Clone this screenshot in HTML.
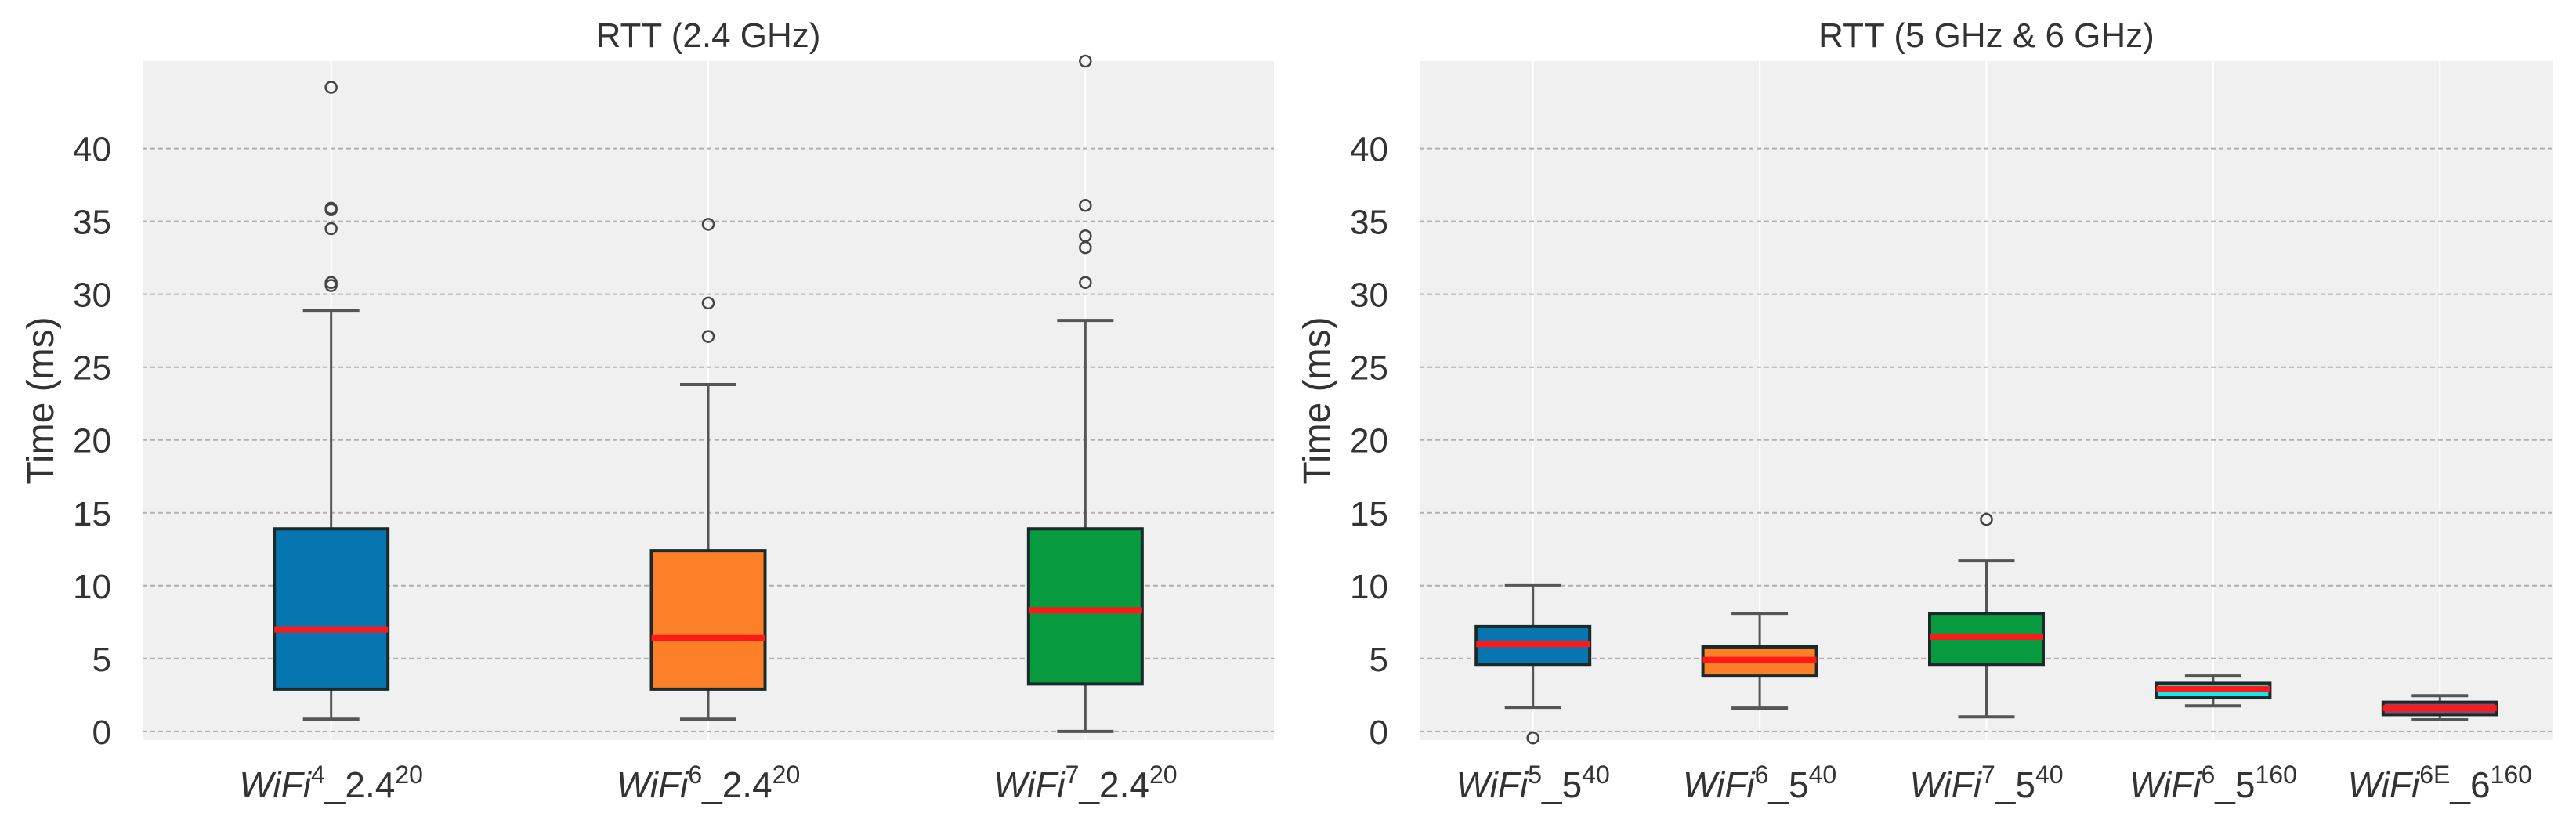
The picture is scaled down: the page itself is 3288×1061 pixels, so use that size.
<!DOCTYPE html>
<html><head><meta charset="utf-8"><style>
html,body{margin:0;padding:0;background:#fff;}
svg{display:block;font-family:"Liberation Sans","DejaVu Sans",sans-serif;}
</style></head><body>
<svg id="chart" width="3288" height="1061" viewBox="0 0 3288 1061"></svg>
<script>
const leftCategories = ["4|2.4|20","6|2.4|20","7|2.4|20"];
const leftLow = [0.84, 0.84, 0.0];
const leftQ1 = [2.9, 2.9, 3.25];
const leftMed = [7.0, 6.4, 8.3];
const leftQ3 = [13.9, 12.4, 13.9];
const leftHigh = [28.9, 23.8, 28.2];
const leftOutliers = [[44.2,35.9,35.8,34.5,30.8,30.6],[34.8,29.4,27.1],[46.0,36.1,34.0,33.2,30.8]];
const rightCategories = ["5|5|40","6|5|40","7|5|40","6|5|160","6E|6|160"];
const rightLow = [1.65, 1.6, 1.0, 1.75, 0.8];
const rightQ1 = [4.6, 3.8, 4.6, 2.3, 1.15];
const rightMed = [6.0, 4.9, 6.5, 2.9, 1.6];
const rightQ3 = [7.2, 5.8, 8.1, 3.3, 2.0];
const rightHigh = [10.05, 8.1, 11.7, 3.8, 2.45];
const rightOutliers = [[-0.45],[],[14.55],[],[]];
const yTicks = [0,5,10,15,20,25,30,35,40];

const NS="http://www.w3.org/2000/svg";
const svg=document.getElementById('chart');
function mk(tag,attrs,parent){const e=document.createElementNS(NS,tag);for(const k in attrs)e.setAttribute(k,attrs[k]);(parent||svg).appendChild(e);return e;}

function panel(cfg){
  const {x0,x1,yTop,yBot,vMin,vMax,cats,lo,q1,med,q3,hi,outs,colors,title,tickX,ytX,key}=cfg;
  const g=mk('g',{});
  
  
  const yS=v=>yBot-(v-vMin)/(vMax-vMin)*(yBot-yTop);
  const n=cats.length, step=(x1-x0)/n;
  const xS=i=>x0+step*(i+0.5);
  const bg=mk('rect',{x:x0,y:yTop,width:x1-x0,height:yBot-yTop,fill:'#f0f0f0'},g);
  
  
  cats.forEach((c,i)=>{
    const l=mk('line',{x1:xS(i),x2:xS(i),y1:yTop,y2:yBot,stroke:'#ffffff','stroke-width':2},g);
    
    
  });
  yTicks.forEach(t=>{
    const l=mk('line',{x1:x0,x2:x1,y1:yS(t),y2:yS(t),stroke:'#b0b0b0','stroke-width':2,'stroke-dasharray':'6,4'},g);
    
    
    const tx=mk('text',{x:tickX,y:yS(t)+16,'text-anchor':'end','font-size':44,fill:'#333'},g);
    tx.textContent=t;
    
    
  });
  const bw=145, cw=72;
  cats.forEach((c,i)=>{
    const cx=xS(i);
    const bx=mk('g',{},g);
    
    
    mk('line',{x1:cx,x2:cx,y1:yS(hi[i]),y2:yS(q3[i]),stroke:'#555','stroke-width':3},bx);
    mk('line',{x1:cx,x2:cx,y1:yS(q1[i]),y2:yS(lo[i]),stroke:'#555','stroke-width':3},bx);
    mk('line',{x1:cx-cw/2,x2:cx+cw/2,y1:yS(hi[i]),y2:yS(hi[i]),stroke:'#555','stroke-width':4},bx);
    mk('line',{x1:cx-cw/2,x2:cx+cw/2,y1:yS(lo[i]),y2:yS(lo[i]),stroke:'#555','stroke-width':4},bx);
    mk('rect',{x:cx-bw/2,y:yS(q3[i]),width:bw,height:yS(q1[i])-yS(q3[i]),fill:colors[i],stroke:'#1a2a2a','stroke-width':4},bx);
    mk('line',{x1:cx-bw/2,x2:cx+bw/2,y1:yS(med[i]),y2:yS(med[i]),stroke:'#ff1a1a','stroke-width':8},bx);
    outs[i].forEach(v=>{
      if(v>vMax) v=vMax;
      const o=mk('circle',{cx:cx,cy:yS(v),r:7,fill:'none',stroke:'#444','stroke-width':2.5},bx);
      
      
    });
    const p=c.split('|');
    const lab=mk('text',{x:cx,y:1018,'text-anchor':'middle','font-size':46,fill:'#333'},g);
    lab.innerHTML='<tspan font-style="italic">WiFi</tspan><tspan font-size="32" dy="-18">'+p[0]+'</tspan><tspan dy="18">_'+p[1]+'</tspan><tspan font-size="32" dy="-18">'+p[2]+'</tspan>';
    
    
  });
  const tt=mk('text',{x:(x0+x1)/2,y:60,'text-anchor':'middle','font-size':44,fill:'#333'},g);
  tt.textContent=title;
  
  
  const yt=mk('text',{x:ytX,y:(yTop+yBot)/2,'text-anchor':'middle','font-size':48,fill:'#333',transform:'rotate(-90 '+ytX+' '+((yTop+yBot)/2)+')'},g);
  yt.textContent='Time (ms)';
  
  
}

panel({key:'left',x0:182,x1:1626,yTop:78,yBot:945,vMin:-0.6,vMax:46,cats:leftCategories,lo:leftLow,q1:leftQ1,med:leftMed,q3:leftQ3,hi:leftHigh,outs:leftOutliers,
  colors:['#0776b0','#fd7f28','#079a3e'],title:'RTT (2.4 GHz)',tickX:142,ytX:68});
panel({key:'right',x0:1812,x1:3259,yTop:78,yBot:945,vMin:-0.6,vMax:46,cats:rightCategories,lo:rightLow,q1:rightQ1,med:rightMed,q3:rightQ3,hi:rightHigh,outs:rightOutliers,
  colors:['#0776b0','#fd7f28','#079a3e','#10eaea','#8a4a78'],title:'RTT (5 GHz & 6 GHz)',tickX:1772,ytX:1697});
</script>
</body></html>
